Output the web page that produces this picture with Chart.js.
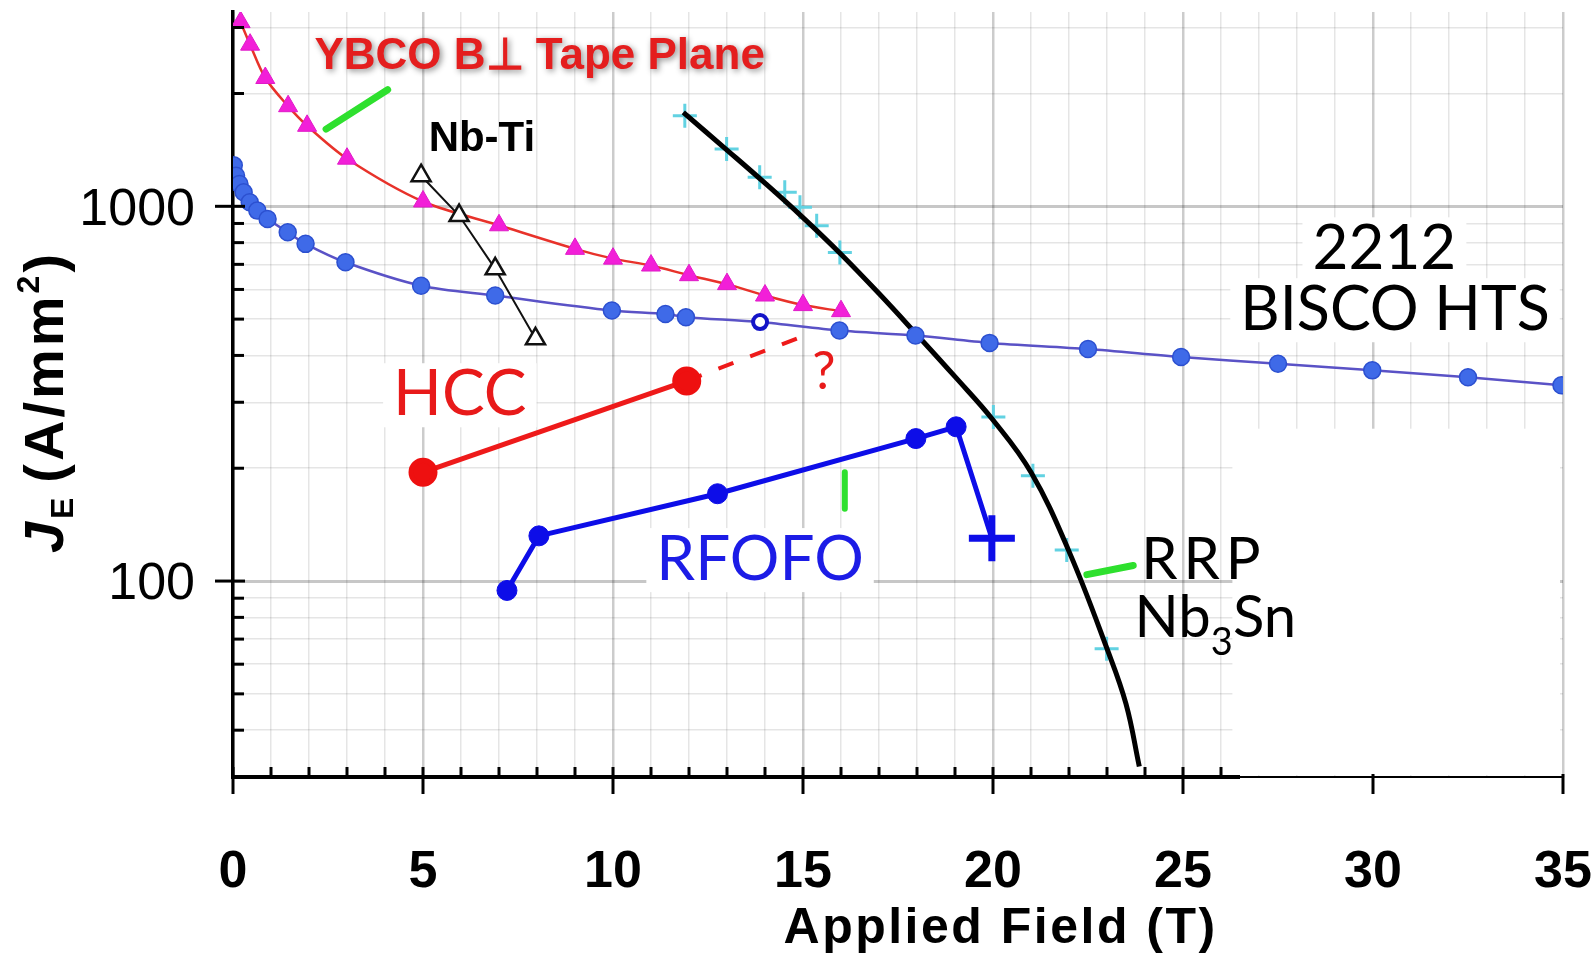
<!DOCTYPE html>
<html>
<head>
<meta charset="utf-8">
<script src="https://cdn.jsdelivr.net/npm/chart.js@4.4.1/dist/chart.umd.min.js"></script>
<style>
  html, body { margin: 0; padding: 0; background: #fff; }
  #wrap { width: 1591px; height: 959px; }
</style>
</head>
<body>
<div id="wrap"><canvas id="jeChart" width="1591" height="959"></canvas></div>
<script>
// values: field in T, J_E in A/mm2

// YBCO, B perpendicular to tape plane
var ybcoField = [0.2, 0.45, 0.85, 1.45, 1.95, 3, 5, 7, 9, 10, 11, 12, 13, 14, 15, 16];
var ybcoJe = [3100, 2700, 2200, 1850, 1640, 1340, 1030, 890, 770, 725, 695, 655, 620, 578, 545, 525];

// 2212 BSCCO round wire
var bsccoField = [0.02, 0.08, 0.17, 0.28, 0.44, 0.64, 0.91, 1.44, 1.91, 2.96, 4.95, 6.9, 9.97, 11.38, 11.92, 13.87, 15.96, 17.96, 19.91, 22.5, 24.95, 27.5, 29.98, 32.5, 34.96];
var bsccoJe = [1286, 1207, 1147, 1090, 1025, 974, 925, 853, 794, 709, 614, 578, 527, 516, 506, 491, 466, 452, 432, 416, 396, 380, 365, 350, 333];
var bsccoOpenPoint = 15; // the small open circle

// Nb-Ti
var nbtiField = [4.95, 5.95, 6.9, 7.96];
var nbtiJe = [1207, 945, 681, 443];

// HCC design points and the guessed extension
var hccField = [5.0, 11.94];
var hccJe = [195, 342];
var hccGuessField = [11.94, 15.26];
var hccGuessJe = [342, 461];

// RFOFO design points (last one is the cross)
var rfofoField = [7.21, 8.05, 12.75, 17.97, 19.03, 19.97];
var rfofoJe = [94.4, 132, 171, 240, 258, 130];

// RRP Nb3Sn curve and its measured marks
var rrpField = [11.85, 13, 14, 15, 16, 17, 18, 19, 20, 21, 22, 23, 23.5, 23.85];
var rrpJe = [1780, 1413, 1153, 933, 745, 585, 454, 351, 269, 195, 120, 66, 47, 32];
var rrpMarkField = [11.89, 12.99, 13.86, 14.52, 14.92, 15.36, 15.97, 20.01, 21.05, 21.94, 22.99];
var rrpMarkJe = [1745, 1422, 1195, 1090, 994, 888, 753, 274, 191, 121, 66];

// green pointer strokes
var ybcoPointerField = [2.45, 4.07];
var ybcoPointerJe = [1607, 2047];
var rfofoPointerField = [16.1, 16.1];
var rfofoPointerJe = [195, 156];
var rrpPointerField = [22.47, 23.69];
var rrpPointerJe = [104, 110];

// axes
var xGridValues = [];
for (var i = 0; i <= 35; i++) xGridValues.push(i);
var xTickLabels = [0, 5, 10, 15, 20, 25, 30, 35];
var yGridValues = [30, 40, 50, 60, 70, 80, 90, 100, 200, 300, 400, 500, 600, 700, 800, 900, 1000, 2000, 3000];
var yTickLabels = [100, 1000];

function pts(xs, ys) {
    return xs.map(function (v, k) { return { x: v, y: ys[k] }; });
}

var gill = 'Lato, "Open Sans", sans-serif';
var arial = '"Liberation Sans", Arial, sans-serif';

// text on the plot, placed in data coordinates (x = field, y = J_E at the baseline)
var notes = [
    { parts: [{ t: 'YBCO B\u22A5 Tape Plane' }], x: 8.07, y: 2318, color: '#e41e1e', font: 'bold 44px ' + arial, shadow: true },
    { parts: [{ t: 'Nb-Ti' }], x: 6.55, y: 1409, color: '#000', font: 'bold 42px ' + arial },
    { parts: [{ t: '2212' }], x: 30.3, y: 679, color: '#000', font: '62px ' + gill, patch: true },
    { parts: [{ t: 'BISCO HTS' }], x: 30.58, y: 467, color: '#000', font: '61px ' + gill, patch: true },
    { parts: [{ t: 'HCC' }], x: 5.97, y: 277, color: '#e81a1a', font: '64px ' + gill, patch: true },
    { parts: [{ t: 'RFOFO' }], x: 13.87, y: 100.6, color: '#1c1ce6', font: '62px ' + gill, patch: true },
    { parts: [{ t: 'RRP' }], x: 25.55, y: 101.2, color: '#000', font: '58px ' + gill, spacing: '6px' },
    { parts: [{ t: 'Nb' }, { t: '3', sub: 18, font: '38px ' + gill }, { t: 'Sn' }], x: 25.85, y: 71, color: '#000', font: '58px ' + gill },
    { parts: [{ t: '?' }], x: 15.55, y: 325, color: '#e81a1a', font: '52px ' + gill }
];

function partsWidth(ctx, parts, baseFont) {
    var w = 0;
    parts.forEach(function (p) {
        ctx.font = p.font || baseFont;
        w += ctx.measureText(p.t).width;
    });
    return w;
}

function drawParts(ctx, parts, baseFont, cx, by) {
    var w = partsWidth(ctx, parts, baseFont);
    var px = cx - w / 2;
    parts.forEach(function (p) {
        ctx.font = p.font || baseFont;
        ctx.fillText(p.t, px, by + (p.sub || 0));
        px += ctx.measureText(p.t).width;
    });
    return w;
}

var decor = {
    id: 'decor',
    beforeDatasetsDraw: function (chart) {
        var ctx = chart.ctx, a = chart.chartArea, x = chart.scales.x, y = chart.scales.y;
        ctx.save();
        ctx.fillStyle = '#fff';
        // blank lower-right part of the grid
        var l = x.getPixelForValue(26.3), t = y.getPixelForValue(255);
        ctx.fillRect(l, t, a.right - l - 3, a.bottom - t - 2);
        // white boxes behind labels
        notes.forEach(function (n) {
            if (!n.patch) return;
            ctx.letterSpacing = n.spacing || '0px';
            var w = partsWidth(ctx, n.parts, n.font);
            var cx = x.getPixelForValue(n.x), by = y.getPixelForValue(n.y);
            ctx.fillRect(cx - w / 2 - 10, by - 52, w + 20, 64);
        });
        ctx.restore();
    },
    afterDatasetsDraw: function (chart) {
        var ctx = chart.ctx, a = chart.chartArea, x = chart.scales.x, y = chart.scales.y;
        ctx.save();
        ctx.textAlign = 'left';
        ctx.textBaseline = 'alphabetic';
        notes.forEach(function (n) {
            ctx.save();
            ctx.fillStyle = n.color;
            ctx.letterSpacing = n.spacing || '0px';
            if (n.shadow) {
                ctx.shadowColor = 'rgba(0,0,0,0.45)';
                ctx.shadowBlur = 6;
                ctx.shadowOffsetX = 2;
                ctx.shadowOffsetY = 2;
            }
            drawParts(ctx, n.parts, n.font, x.getPixelForValue(n.x), y.getPixelForValue(n.y));
            ctx.restore();
        });

        // axis lines and tick marks
        ctx.strokeStyle = '#000';
        ctx.lineCap = 'butt';
        ctx.lineWidth = 4;
        ctx.beginPath();
        ctx.moveTo(a.left - 2, a.bottom);
        ctx.lineTo(x.getPixelForValue(26.5), a.bottom);
        ctx.stroke();
        ctx.lineWidth = 2;
        ctx.beginPath();
        ctx.moveTo(x.getPixelForValue(26.5), a.bottom);
        ctx.lineTo(a.right, a.bottom);
        ctx.stroke();

        ctx.lineWidth = 3;
        xGridValues.forEach(function (v) {
            var px = x.getPixelForValue(v);
            ctx.beginPath();
            if (v % 5 === 0) {
                ctx.moveTo(px, v > 26 ? a.bottom - 3 : a.bottom - 10);
                ctx.lineTo(px, a.bottom + 17);
            } else if (v <= 26) {
                ctx.moveTo(px, a.bottom - 10);
                ctx.lineTo(px, a.bottom);
            }
            ctx.stroke();
        });
        yGridValues.forEach(function (v) {
            var py = y.getPixelForValue(v);
            ctx.beginPath();
            if (yTickLabels.indexOf(v) >= 0) {
                ctx.moveTo(a.left - 18, py);
                ctx.lineTo(a.left + 12, py);
            } else {
                ctx.moveTo(a.left, py);
                ctx.lineTo(a.left + 11, py);
            }
            ctx.stroke();
        });

        // x axis title
        ctx.fillStyle = '#000';
        ctx.letterSpacing = '2.5px';
        drawParts(ctx, [{ t: 'Applied Field (T)' }], 'bold 50px ' + arial, x.getPixelForValue(20.2), a.bottom + 166);

        // y axis title, rotated
        ctx.letterSpacing = '3px';
        ctx.translate(63, 402);
        ctx.rotate(-Math.PI / 2);
        drawParts(ctx, [
            { t: 'J', font: 'italic bold 56px ' + arial },
            { t: 'E ', font: 'bold 32px ' + arial, sub: 10 },
            { t: '(A/mm' },
            { t: '2', font: 'bold 32px ' + arial, sub: -24 },
            { t: ')' }
        ], 'bold 56px ' + arial, 0, 0);
        ctx.restore();
    }
};

var ctx = document.getElementById('jeChart').getContext('2d');
var chart = new Chart(ctx, {
    type: 'scatter',
    data: {
        datasets: [{
            // RFOFO, drawn on top
            data: pts(rfofoField, rfofoJe),
            showLine: true,
            borderColor: '#0d0de8',
            borderWidth: 5,
            pointStyle: function (c) { return c.dataIndex === rfofoField.length - 1 ? 'cross' : 'circle'; },
            pointRadius: function (c) { return c.dataIndex === rfofoField.length - 1 ? 23 : 10; },
            pointBorderWidth: function (c) { return c.dataIndex === rfofoField.length - 1 ? 7 : 1; },
            pointBackgroundColor: '#0d0de8',
            pointBorderColor: '#0d0de8'
        }, {
            // HCC
            data: pts(hccField, hccJe),
            showLine: true,
            borderColor: '#ee1a1a',
            borderWidth: 5,
            pointRadius: 12,
            pointBackgroundColor: '#ee1010',
            pointBorderColor: '#ee1010'
        }, {
            data: pts(hccGuessField, hccGuessJe),
            showLine: true,
            borderColor: '#ee1a1a',
            borderWidth: 4,
            borderDash: [16, 18],
            pointRadius: 0
        }, {
            // Nb-Ti
            data: pts(nbtiField, nbtiJe),
            showLine: true,
            borderColor: '#111',
            borderWidth: 2,
            pointStyle: 'triangle',
            pointRadius: 11,
            pointBorderWidth: 2.5,
            pointBackgroundColor: '#fff',
            pointBorderColor: '#111'
        }, {
            // YBCO
            data: pts(ybcoField, ybcoJe),
            showLine: true,
            tension: 0.3,
            borderColor: '#e8322a',
            borderWidth: 2.5,
            pointStyle: 'triangle',
            pointRadius: 11,
            pointBorderWidth: 1,
            pointBackgroundColor: '#f21fd8',
            pointBorderColor: '#e01ac8'
        }, {
            // 2212
            data: pts(bsccoField, bsccoJe),
            showLine: true,
            tension: 0.3,
            borderColor: '#5a52c6',
            borderWidth: 2.5,
            pointRadius: function (c) { return c.dataIndex === bsccoOpenPoint ? 7 : 8.5; },
            pointBorderWidth: function (c) { return c.dataIndex === bsccoOpenPoint ? 4 : 1.5; },
            pointBackgroundColor: function (c) { return c.dataIndex === bsccoOpenPoint ? '#fff' : '#3f6ae8'; },
            pointBorderColor: function (c) { return c.dataIndex === bsccoOpenPoint ? '#1414c8' : '#2c50d0'; }
        }, {
            // RRP Nb3Sn
            data: pts(rrpField, rrpJe),
            showLine: true,
            tension: 0.4,
            borderColor: '#000',
            borderWidth: 5,
            pointRadius: 0
        }, {
            data: pts(rrpMarkField, rrpMarkJe),
            pointStyle: 'cross',
            pointRadius: 12,
            pointBorderWidth: 3,
            pointBorderColor: '#62d2e2'
        }, {
            data: pts(ybcoPointerField, ybcoPointerJe),
            showLine: true, borderColor: '#2ee02e', borderWidth: 7, borderCapStyle: 'round', pointRadius: 0
        }, {
            data: pts(rfofoPointerField, rfofoPointerJe),
            showLine: true, borderColor: '#2ee02e', borderWidth: 6, borderCapStyle: 'round', pointRadius: 0
        }, {
            data: pts(rrpPointerField, rrpPointerJe),
            showLine: true, borderColor: '#2ee02e', borderWidth: 7, borderCapStyle: 'round', pointRadius: 0
        }]
    },
    options: {
        responsive: false,
        animation: false,
        events: [],
        layout: { autoPadding: false, padding: { top: 12, right: 28, left: 0, bottom: 0 } },
        plugins: {
            legend: { display: false },
            tooltip: { enabled: false }
        },
        scales: {
            x: {
                type: 'linear',
                min: 0,
                max: 35,
                afterBuildTicks: function (s) { s.ticks = xGridValues.map(function (v) { return { value: v }; }); },
                afterFit: function (s) {
                    s.height = 182;
                    s.paddingLeft = 0; s.paddingRight = 0; s.paddingTop = 0; s.paddingBottom = 0;
                },
                ticks: {
                    autoSkip: false,
                    maxRotation: 0,
                    padding: 64,
                    color: '#000',
                    font: { family: arial, size: 52, weight: 'bold' },
                    callback: function (v) { return xTickLabels.indexOf(v) >= 0 ? String(v) : ''; }
                },
                grid: {
                    drawTicks: false,
                    color: function (c) { return c.tick && c.tick.value % 5 === 0 ? 'rgba(0,0,0,0.2)' : 'rgba(0,0,0,0.1)'; },
                    lineWidth: function (c) { return c.tick && c.tick.value % 5 === 0 ? 2.5 : 1.5; }
                },
                border: { display: false }
            },
            y: {
                type: 'logarithmic',
                min: 30,
                max: 3300,
                afterBuildTicks: function (s) { s.ticks = yGridValues.map(function (v) { return { value: v }; }); },
                afterFit: function (s) {
                    s.width = 233;
                    s.paddingLeft = 0; s.paddingRight = 0; s.paddingTop = 0; s.paddingBottom = 0;
                },
                ticks: {
                    autoSkip: false,
                    padding: 38,
                    labelOffset: 4,
                    color: '#000',
                    font: { family: arial, size: 52 },
                    callback: function (v) { return yTickLabels.indexOf(v) >= 0 ? String(v) : ''; }
                },
                grid: {
                    drawTicks: false,
                    color: function (c) { return c.tick && yTickLabels.indexOf(c.tick.value) >= 0 ? 'rgba(0,0,0,0.22)' : 'rgba(0,0,0,0.1)'; },
                    lineWidth: function (c) { return c.tick && yTickLabels.indexOf(c.tick.value) >= 0 ? 3 : 1.5; }
                },
                border: { color: '#000', width: 3.5 }
            }
        }
    },
    plugins: [decor]
});
</script>
</body>
</html>
